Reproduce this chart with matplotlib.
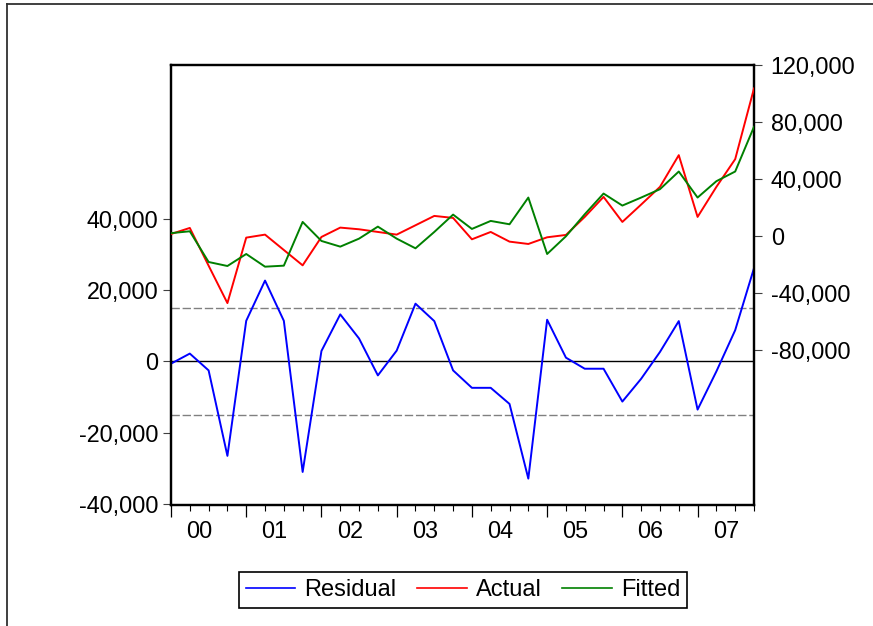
import matplotlib
matplotlib.use("Agg")
import matplotlib.pyplot as plt
from matplotlib.ticker import FuncFormatter, FixedLocator
from matplotlib.lines import Line2D

plt.rcParams["font.family"] = ["Liberation Sans", "DejaVu Sans"]

# Quarterly observations, 2000Q1 - 2007Q4
year_labels = ["00", "01", "02", "03", "04", "05", "06", "07"]

actual = [1600, 5850, -20600, -46800, -940, 1170, -9600, -20350,
          -460, 6080, 4910, 3040, 1170, 7720, 14270, 12870,
          -2110, 3040, -3740, -5380, -700, 940, 13570, 27600,
          10060, 22230, 34620, 56840, 13570, 34620, 54040, 103600]

fitted = [2200, 3510, -18010, -20820, -12400, -21290, -20580, 10060,
          -3270, -7250, -1640, 6780, -1640, -8420, 3040, 15200,
          5150, 10760, 8420, 27140, -12400, 0, 15440, 29940,
          21520, 27140, 33000, 45380, 27140, 38600, 45380, 76720]

residual = [-650, 2170, -2540, -26480, 11350, 22620, 11350, -30990,
            2900, 13150, 6390, -3940, 3000, 16150, 11270, -2540,
            -7420, -7420, -11930, -32850, 11650, 1030, -2070, -2070,
            -11270, -4880, 2630, 11270, -13520, -2820, 8730, 26100]

se_band = 14900  # +/- one standard error of the regression

left_ticks = [-40000, -20000, 0, 20000, 40000]
right_ticks = [-80000, -40000, 0, 40000, 80000, 120000]

W, H = 873, 626
fig = plt.figure(figsize=(W / 100, H / 100), dpi=100)

left, right, top, bottom = 171, 754, 65, 504.5
ax = fig.add_axes([left / W, 1 - bottom / H, (right - left) / W, (bottom - top) / H])
ax2 = ax.twinx()

x = list(range(len(residual)))
n = len(x)

fs = 16.8
comma = FuncFormatter(lambda v, p: f"{int(v):,}")

# Residual on the left scale
ax.axhline(0, color="black", lw=1.0, zorder=1)
ax.axhline(se_band, color="#808080", lw=1.0, ls=(0, (6, 2)), zorder=1)
ax.axhline(-se_band, color="#808080", lw=1.0, ls=(0, (6, 2)), zorder=1)
ax.plot(x, residual, color="#0000ff", lw=1.4, zorder=3)
ax.set_ylim(-40100, 83000)
ax.set_xlim(0, n - 1)
ax.yaxis.set_major_locator(FixedLocator(left_ticks))
ax.yaxis.set_major_formatter(comma)

# Actual and fitted on the right scale
ax2.plot(x, actual, color="#ff0000", lw=1.4, zorder=3)
ax2.plot(x, fitted, color="#008000", lw=1.4, zorder=3)
ax2.set_ylim(-187900, 120000)
ax2.yaxis.set_major_locator(FixedLocator(right_ticks))
ax2.yaxis.set_major_formatter(comma)

for a in (ax, ax2):
    for s in a.spines.values():
        s.set_linewidth(1.6)
        s.set_color("black")

ax.tick_params(axis="y", direction="out", length=6, width=0.8,
               color="#404040", labelsize=fs, pad=3)
ax2.tick_params(axis="y", direction="out", length=6, width=0.8,
                color="#404040", labelsize=fs, pad=6)

# Quarter ticks (minor) and year boundaries (major)
ax.xaxis.set_major_locator(FixedLocator(list(range(0, n, 4))))
ax.xaxis.set_minor_locator(FixedLocator(x))
ax.tick_params(axis="x", which="major", direction="out", length=8.5,
               width=0.9, labelbottom=False)
ax.tick_params(axis="x", which="minor", direction="out", length=4.5,
               width=0.8)

for k, lab in enumerate(year_labels):
    ax.annotate(lab, xy=(4 * k + 1.5, 0), xycoords=("data", "axes fraction"),
                xytext=(0, -24), textcoords="offset points",
                ha="center", va="baseline", fontsize=fs)

# Legend
handles = [Line2D([], [], color="#0000ff", lw=1.2),
           Line2D([], [], color="#ff0000", lw=1.2),
           Line2D([], [], color="#008000", lw=1.2)]
leg = fig.legend(handles, ["Residual", "Actual", "Fitted"], ncol=3,
                 loc="center", bbox_to_anchor=(463 / W, 1 - 590 / H),
                 fontsize=17, frameon=True, fancybox=False, framealpha=1,
                 edgecolor="black", handlelength=2.1, handletextpad=0.38,
                 columnspacing=0.88, borderpad=0.3)
leg.get_frame().set_linewidth(1.2)

# Outer frame
fig.add_artist(Line2D([7 / W, 7 / W], [1 - 4 / H, -0.05], transform=fig.transFigure,
                      color="#303030", lw=1.3))
fig.add_artist(Line2D([7 / W, 1.05], [1 - 4 / H, 1 - 4 / H], transform=fig.transFigure,
                      color="#303030", lw=1.3))

fig.savefig("out.png", dpi=100)
